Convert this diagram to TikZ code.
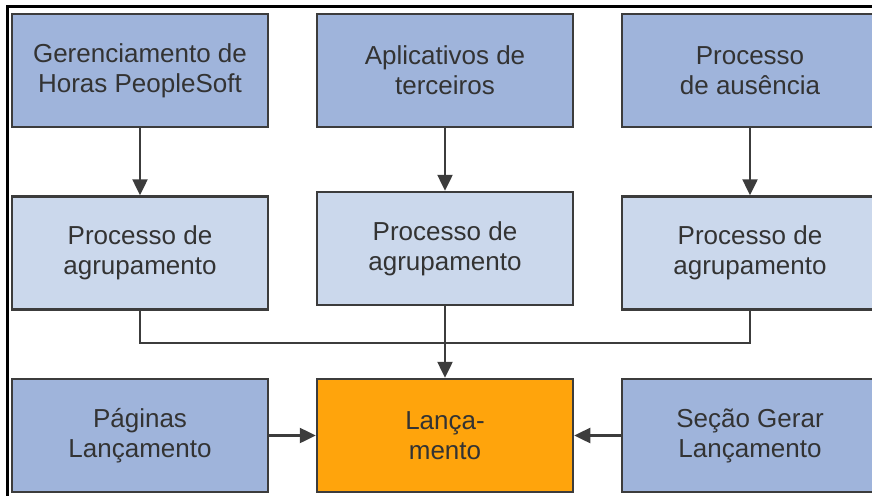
\documentclass[tikz,border=0pt]{standalone}
\usepackage{fontspec}
\setmainfont{Liberation Sans}
\usetikzlibrary{arrows.meta}
\definecolor{darkblue}{HTML}{9FB4DB}
\definecolor{lightblue}{HTML}{CBD8EC}
\definecolor{orangefill}{HTML}{FFA40C}
\definecolor{edgegray}{HTML}{3C3C3C}
\definecolor{textgray}{HTML}{333333}
\begin{document}
\begin{tikzpicture}[x=1pt,y=-1pt,
  box/.style={draw=edgegray, line width=2.5pt, minimum width=256pt, minimum height=113pt,
    inner sep=0pt, align=center, text=textgray, font=\fontsize{26}{30}\selectfont},
  srcbox/.style={box, fill=darkblue},
  grpbox/.style={box, fill=lightblue},
  launchbox/.style={box, fill=orangefill},
  conn/.style={draw=edgegray, line width=2.5pt},
  arr/.style={conn, -{Triangle[length=16pt,width=15pt]}}]
\useasboundingbox (0,0) rectangle (872,495);
\draw[black, line width=3pt] (7,497) -- (7,7) -- (875,7);
% top row
\node[srcbox] (s1) at (140,70.5) {Gerenciamento de\\Horas PeopleSoft};
\node[srcbox] (s2) at (445,70.5) {Aplicativos de\\terceiros};
\node[srcbox] (s3) at (750,70.5) {Processo\\de ausência};
% middle row
\node[grpbox] (g1) at (140,253) {Processo de\\agrupamento};
\node[grpbox] (g2) at (445,248.5) {Processo de\\agrupamento};
\node[grpbox] (g3) at (750,253) {Processo de\\agrupamento};
% bottom row
\node[srcbox] (p1) at (140,435.5) {Páginas\\Lançamento};
\node[launchbox] (l) at (445,435.5) {Lança-\\mento};
\node[srcbox] (p3) at (750,435.5) {Seção Gerar\\Lançamento};
% connectors
\draw[arr] (s1.south) -- (g1.north);
\draw[arr] (s2.south) -- (g2.north);
\draw[arr] (s3.south) -- (g3.north);
\coordinate (bus) at (445,343);
\draw[conn] (g1.south) |- (bus);
\draw[conn] (g3.south) |- (bus);
\draw[arr] (g2.south) -- (l.north);
\draw[arr] (p1.east) -- (l.west);
\draw[arr] (p3.west) -- (l.east);
\end{tikzpicture}
\end{document}
